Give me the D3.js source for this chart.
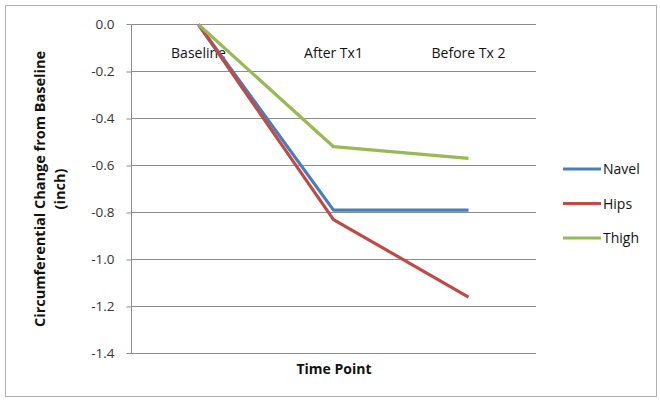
<!DOCTYPE html>
<html><head><meta charset="utf-8">
<script src="https://cdn.jsdelivr.net/npm/d3@7"></script>
<style>body{margin:0;background:#fff;} svg{display:block;}</style>
</head><body>
<script>
const categories = ["Baseline", "After Tx1", "Before Tx 2"];
const navel = [0, -0.79, -0.79];
const hips = [0, -0.83, -1.16];
const thigh = [0, -0.52, -0.57];
const seriesNames = ["Navel", "Hips", "Thigh"];
const seriesColors = ["#4A7EBB", "#BE4B48", "#98B954"];
const yTicks = [0, -0.2, -0.4, -0.6, -0.8, -1.0, -1.2, -1.4];

const series = [navel, hips, thigh];
const W = 660, H = 400;
const svg = d3.select("body").append("svg").attr("width", W).attr("height", H);
const font = "'Open Sans', sans-serif";

svg.append("rect").attr("x", 5.5).attr("y", 5.5).attr("width", 651).attr("height", 391)
  .attr("fill", "#fff").attr("stroke", "#b0b0b0").attr("stroke-width", 1);

const x = d3.scalePoint().domain(categories).range([198.5, 468.5]);
const y = d3.scaleLinear().domain([-1.4, 0]).range([353.5, 24.5]);
const left = 131.5, right = 536;

// gridlines
svg.append("g").selectAll("line").data(yTicks).join("line")
  .attr("x1", left).attr("x2", right)
  .attr("y1", d => y(d)).attr("y2", d => y(d))
  .attr("stroke", "#8c8c8c").attr("stroke-width", 1);

// y axis
const yAxis = d3.axisLeft(y).tickValues(yTicks).tickSize(5).tickPadding(12)
  .tickFormat(d => d.toFixed(1).replace("\u2212", "-"));
const ga = svg.append("g").attr("transform", `translate(${left},0)`).call(yAxis);
ga.select(".domain").attr("stroke", "#8c8c8c").attr("d", `M-5,${y(0)}H0V${y(-1.4)}H-5`);
ga.selectAll(".tick line").attr("stroke", "#8c8c8c");
ga.selectAll(".tick text").attr("font-family", font).attr("font-size", 13.5).attr("fill", "#333");
ga.selectAll(".tick").filter(d => d === 0 || d === -1.4).select("line").remove();

// category labels
svg.append("g").selectAll("text").data(categories).join("text")
  .attr("x", d => x(d)).attr("y", 58).attr("text-anchor", "middle")
  .attr("font-family", font).attr("font-size", 14).attr("fill", "#111")
  .text(d => d);

// lines
const line = d3.line().x((d, i) => x(categories[i])).y(d => y(d));
svg.append("g").selectAll("path").data(series).join("path")
  .attr("d", d => line(d)).attr("fill", "none")
  .attr("stroke", (d, i) => seriesColors[i]).attr("stroke-width", 3.2)
  .attr("stroke-linejoin", "round");

// axis titles
const yt = svg.append("text").attr("transform", "translate(45,189) rotate(-90)")
  .attr("text-anchor", "middle").attr("font-family", font).attr("font-weight", "bold")
  .attr("font-size", 14.5).attr("fill", "#111");
yt.append("tspan").attr("x", 0).attr("dy", 0).text("Circumferential Change from Baseline");
yt.append("tspan").attr("x", 0).attr("dy", 20).text("(inch)");

svg.append("text").attr("x", 334).attr("y", 374).attr("text-anchor", "middle")
  .attr("font-family", font).attr("font-weight", "bold").attr("font-size", 14)
  .attr("fill", "#111").text("Time Point");

// legend
const lg = svg.append("g").selectAll("g").data(seriesNames).join("g")
  .attr("transform", (d, i) => `translate(563,${169 + i * 34.5})`);
lg.append("line").attr("x1", 0).attr("x2", 38).attr("y1", 0).attr("y2", 0)
  .attr("stroke", (d, i) => seriesColors[i]).attr("stroke-width", 3.2);
lg.append("text").attr("x", 40).attr("y", 5).attr("font-family", font)
  .attr("font-size", 14).attr("fill", "#111").text(d => d);
</script>
</body></html>
